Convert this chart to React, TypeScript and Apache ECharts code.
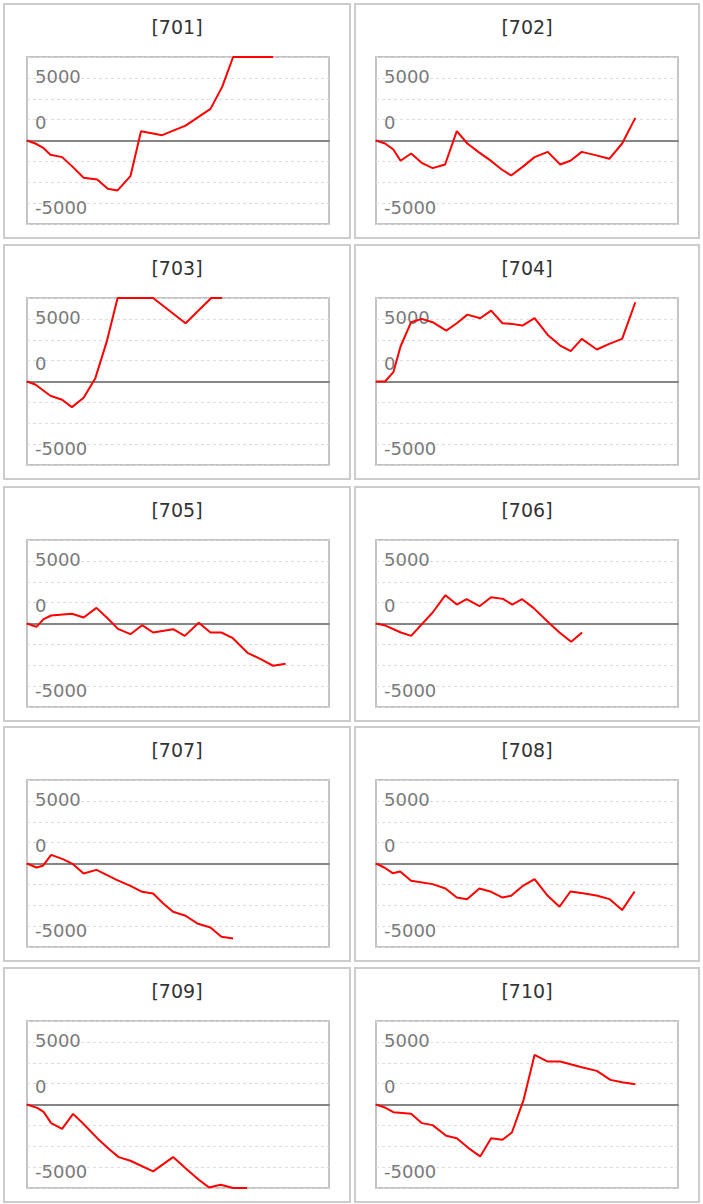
import React, { useEffect, useRef } from "react";
import * as echarts from "echarts";

// Machine numbers (panel titles)
const titles = ["[701]", "[702]", "[703]", "[704]", "[705]", "[706]", "[707]", "[708]", "[709]", "[710]"];

// y-axis tick labels as they appear on the reference (value -> text)
const tickValues = [7500, 2500, -7500];
const tickTexts = ["5000", "0", "-5000"];

// Series: [games, difference]
const m701 = [[0, 0], [220, -360], [420, -840], [620, -1710], [930, -1990], [1190, -3070], [1500, -4470], [1860, -4670], [2140, -5780], [2400, -5980], [2740, -4270], [3020, 1120], [3580, 640], [4200, 1790], [4860, 3790], [5170, 6420], [5460, 10000], [6520, 10000]];
const m702 = [[0, 0], [240, -360], [460, -1080], [650, -2430], [930, -1560], [1210, -2670], [1500, -3310], [1830, -2870], [2140, 1120], [2420, -360], [2710, -1360], [3020, -2350], [3330, -3470], [3580, -4190], [3910, -3070], [4200, -1990], [4550, -1360], [4880, -2870], [5150, -2430], [5450, -1360], [5810, -1750], [6180, -2190], [6520, -360], [6870, 2710]];
const m703 = [[0, 0], [220, -360], [620, -1710], [930, -2190], [1190, -3070], [1500, -1950], [1810, 400], [2120, 4900], [2400, 10000], [3340, 10000], [4200, 6980], [4880, 10000], [5170, 10000]];
const m704 = [[0, 0], [240, 0], [460, 1120], [650, 4190], [930, 7100], [1210, 7500], [1500, 7100], [1860, 6100], [2140, 6980], [2420, 8010], [2760, 7580], [3050, 8490], [3350, 6980], [3600, 6900], [3880, 6700], [4200, 7580], [4550, 5580], [4880, 4310], [5160, 3630], [5450, 5100], [5850, 3830], [6180, 4510], [6520, 5100], [6870, 9490]];
const m705 = [[0, 0], [250, -400], [440, 520], [640, 960], [1190, 1160], [1500, 720], [1840, 1870], [2140, 600], [2410, -640], [2740, -1280], [3050, -200], [3340, -1080], [3870, -680], [4180, -1480], [4550, 80], [4860, -1080], [5150, -1080], [5440, -1710], [5840, -3510], [6190, -4270], [6520, -5060], [6850, -4820]];
const m706 = [[0, 0], [220, -200], [660, -1080], [930, -1480], [1500, 1320], [1840, 3390], [2140, 2270], [2400, 2910], [2740, 2070], [3050, 3150], [3360, 2950], [3610, 2270], [3870, 2910], [4170, 1870], [4600, 0], [4860, -1080], [5170, -2190], [5460, -1080]];
const m707 = [[0, 0], [250, -480], [420, -280], [640, 1040], [950, 520], [1220, -80], [1500, -1200], [1840, -760], [2390, -1990], [2740, -2670], [3050, -3390], [3340, -3590], [3610, -4780], [3870, -5780], [4200, -6260], [4510, -7180], [4860, -7660], [5150, -8770], [5460, -8970]];
const m708 = [[0, 0], [220, -480], [440, -1160], [640, -960], [930, -2070], [1500, -2470], [1840, -2990], [2140, -4070], [2410, -4270], [2740, -2990], [3050, -3390], [3340, -4070], [3580, -3870], [3870, -2750], [4200, -1870], [4550, -3870], [4860, -5180], [5150, -3350], [5480, -3550], [5840, -3830], [6190, -4270], [6520, -5580], [6850, -3350]];
const m709 = [[0, 0], [270, -400], [440, -880], [640, -2230], [930, -2910], [1220, -1120], [1460, -2150], [1860, -4030], [2170, -5340], [2430, -6300], [2740, -6740], [3340, -8010], [3870, -6300], [4200, -7620], [4550, -9010], [4820, -9930], [5130, -9610], [5460, -10000], [5830, -10000]];
const m710 = [[0, 0], [240, -360], [460, -920], [930, -1120], [1210, -2230], [1500, -2470], [1860, -3750], [2140, -4030], [2450, -5220], [2760, -6220], [3050, -4030], [3350, -4230], [3600, -3350], [3910, 560], [4200, 5940], [4550, 5140], [4880, 5140], [5450, 4470], [5850, 4030], [6210, 2950], [6520, 2670], [6870, 2430]];

const seriesData = [m701, m702, m703, m704, m705, m706, m707, m708, m709, m710];

const X_MAX = 8000;
const Y_MIN = -10000;
const Y_MAX = 10000;
const Y_STEP = 2500;

export default function App() {
  const ref = useRef<HTMLDivElement>(null);
  useEffect(() => {
    if (!ref.current) return;
    const chart = echarts.init(ref.current, undefined, { renderer: "svg" });
    const colX = [4, 355];
    const colW = [346, 344];
    const plotLeft = [27, 376];
    const rowTop = [4, 245, 487, 727, 968];
    const grids: any[] = [];
    const xAxes: any[] = [];
    const yAxes: any[] = [];
    const series: any[] = [];
    const graphic: any[] = [];
    const font = '"DejaVu Sans", Verdana, sans-serif';
    const richKeys = ["a", "b", "c"];
    seriesData.forEach((data, i) => {
      const col = i % 2;
      const row = Math.floor(i / 2);
      const top = rowTop[row];
      graphic.push({
        type: "rect",
        shape: { x: colX[col], y: top, width: colW[col], height: 234 },
        style: { fill: "none", stroke: "#cccccc", lineWidth: 2 },
        silent: true,
      });
      graphic.push({
        type: "text",
        x: colX[col] + colW[col] / 2,
        y: top + 23,
        style: {
          text: titles[i],
          fill: "#333333",
          fontSize: 19,
          fontFamily: font,
          align: "center",
          verticalAlign: "middle",
        },
      });
      grids.push({
        left: plotLeft[col],
        top: top + 53,
        width: 302,
        height: 167,
        show: true,
        borderColor: "#c4c4c4",
        borderWidth: 2,
        backgroundColor: "transparent",
      });
      xAxes.push({
        type: "value",
        gridIndex: i,
        min: 0,
        max: X_MAX,
        axisLine: { show: true, onZero: true, lineStyle: { color: "#858585", width: 2 } },
        axisTick: { show: false },
        axisLabel: { show: false },
        splitLine: { show: false },
        z: 1,
      });
      yAxes.push({
        type: "value",
        gridIndex: i,
        min: Y_MIN,
        max: Y_MAX,
        interval: Y_STEP,
        axisLine: { show: false },
        axisTick: { show: false },
        splitLine: { show: true, lineStyle: { color: "#dddddd", type: [3, 3], width: 1 } },
        axisLabel: {
          inside: true,
          margin: 8,
          color: "#7a7a7a",
          fontSize: 18,
          fontFamily: font,
          align: "left",
          formatter: (v: number) => {
            const k = tickValues.indexOf(v);
            return k >= 0 ? "{" + richKeys[k] + "|" + tickTexts[k] + "}" : "";
          },
          rich: {
            a: { color: "#7a7a7a", fontSize: 18, fontFamily: font, padding: [0, 0, 3, 0] },
            b: { color: "#7a7a7a", fontSize: 18, fontFamily: font, padding: [6, 0, 0, 0] },
            c: { color: "#7a7a7a", fontSize: 18, fontFamily: font, padding: [8, 0, 0, 0] },
          },
        },
        z: 0,
      });
      series.push({
        type: "line",
        xAxisIndex: i,
        yAxisIndex: i,
        data,
        showSymbol: false,
        symbol: "none",
        lineStyle: { color: "#ff0000", width: 2 },
        itemStyle: { color: "#ff0000" },
        clip: true,
        z: 2,
      });
    });
    chart.setOption({
      animation: false,
      backgroundColor: "#ffffff",
      textStyle: { fontFamily: font },
      grid: grids,
      xAxis: xAxes,
      yAxis: yAxes,
      series,
      graphic,
    });
    return () => chart.dispose();
  }, []);
  return (
    <div
      ref={ref}
      style={{ position: "absolute", left: 0, top: 0, width: 703, height: 1204, background: "#fff" }}
    />
  );
}
